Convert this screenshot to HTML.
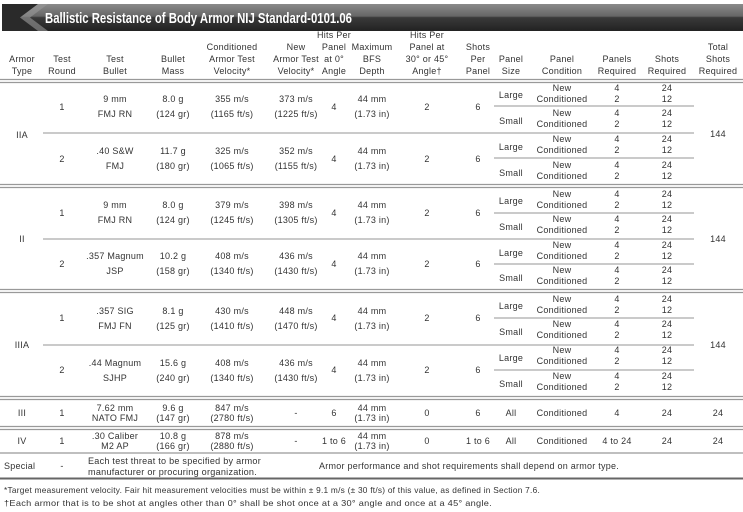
<!DOCTYPE html>
<html><head><meta charset="utf-8"><style>
html,body{margin:0;padding:0;background:#fff;width:743px;height:512px;overflow:hidden}
svg{display:block}
text{font-family:"Liberation Sans",Arial,sans-serif;font-size:9px;fill:#333;letter-spacing:0.25px}
.m{text-anchor:middle}
</style></head><body>
<svg width="743" height="512" viewBox="0 0 743 512" xmlns="http://www.w3.org/2000/svg">
<defs>
<linearGradient id="g" x1="0" y1="0" x2="0" y2="1">
<stop offset="0" stop-color="#8a8a8a"/><stop offset="0.45" stop-color="#666"/><stop offset="0.5" stop-color="#3a3a3a"/><stop offset="1" stop-color="#222"/>
</linearGradient>
</defs>
<rect x="2" y="4" width="741" height="27" fill="url(#g)"/>
<polygon points="2,4 38,4 20,17.5 38,31 2,31" fill="#2a2a2a"/>
<polygon points="38,4 48,4 30,17.5 48,31 38,31 20,17.5" fill="#999" opacity="0.6"/>
<text x="45" y="23" textLength="307" lengthAdjust="spacingAndGlyphs" style="font-size:15px;font-weight:bold;fill:#fff;letter-spacing:0">Ballistic Resistance of Body Armor NIJ Standard-0101.06</text>

<g>
<text class="m" x="22" y="62">Armor</text><text class="m" x="22" y="74">Type</text>
<text class="m" x="62" y="62">Test</text><text class="m" x="62" y="74">Round</text>
<text class="m" x="115" y="62">Test</text><text class="m" x="115" y="74">Bullet</text>
<text class="m" x="173" y="62">Bullet</text><text class="m" x="173" y="74">Mass</text>
<text class="m" x="232" y="50">Conditioned</text><text class="m" x="232" y="62">Armor Test</text><text class="m" x="232" y="74">Velocity*</text>
<text class="m" x="296" y="50">New</text><text class="m" x="296" y="62">Armor Test</text><text class="m" x="296" y="74">Velocity*</text>
<text class="m" x="334" y="38">Hits Per</text><text class="m" x="334" y="50">Panel</text><text class="m" x="334" y="62">at 0°</text><text class="m" x="334" y="74">Angle</text>
<text class="m" x="372" y="50">Maximum</text><text class="m" x="372" y="62">BFS</text><text class="m" x="372" y="74">Depth</text>
<text class="m" x="427" y="38">Hits Per</text><text class="m" x="427" y="50">Panel at</text><text class="m" x="427" y="62">30° or 45°</text><text class="m" x="427" y="74">Angle†</text>
<text class="m" x="478" y="50">Shots</text><text class="m" x="478" y="62">Per</text><text class="m" x="478" y="74">Panel</text>
<text class="m" x="511" y="62">Panel</text><text class="m" x="511" y="74">Size</text>
<text class="m" x="562" y="62">Panel</text><text class="m" x="562" y="74">Condition</text>
<text class="m" x="617" y="62">Panels</text><text class="m" x="617" y="74">Required</text>
<text class="m" x="667" y="62">Shots</text><text class="m" x="667" y="74">Required</text>
<text class="m" x="718" y="50">Total</text><text class="m" x="718" y="62">Shots</text><text class="m" x="718" y="74">Required</text>
</g>

<g stroke="#999" stroke-width="1.3">
<line x1="0" y1="79.5" x2="743" y2="79.5"/><line x1="0" y1="82.5" x2="743" y2="82.5"/>
<line x1="0" y1="184.5" x2="743" y2="184.5"/><line x1="0" y1="187.5" x2="743" y2="187.5"/>
<line x1="0" y1="289.5" x2="743" y2="289.5"/><line x1="0" y1="292.5" x2="743" y2="292.5"/>
<line x1="0" y1="396.5" x2="743" y2="396.5"/><line x1="0" y1="399.5" x2="743" y2="399.5"/>
<line x1="0" y1="426.5" x2="743" y2="426.5"/><line x1="0" y1="429.5" x2="743" y2="429.5"/>
<line x1="0" y1="453" x2="743" y2="453"/>
</g>
<g stroke="#aaa" stroke-width="1.2">
<line x1="43" y1="133" x2="694" y2="133"/><line x1="43" y1="239" x2="694" y2="239"/><line x1="43" y1="345" x2="694" y2="345"/>
<line x1="494" y1="106" x2="694" y2="106"/><line x1="494" y1="158" x2="694" y2="158"/>
<line x1="494" y1="213" x2="694" y2="213"/><line x1="494" y1="264" x2="694" y2="264"/>
<line x1="494" y1="318" x2="694" y2="318"/><line x1="494" y1="370" x2="694" y2="370"/>
</g>
<line x1="0" y1="478.5" x2="743" y2="478.5" stroke="#666" stroke-width="2"/>

<text class="m" x="22" y="138">IIA</text><text class="m" x="718" y="137">144</text>
<text class="m" x="22" y="242">II</text><text class="m" x="718" y="242">144</text>
<text class="m" x="22" y="348">IIIA</text><text class="m" x="718" y="348">144</text>

<text class="m" x="62" y="110">1</text>
<text class="m" x="115" y="102">9 mm</text><text class="m" x="115" y="117">FMJ RN</text>
<text class="m" x="173" y="102">8.0 g</text><text class="m" x="173" y="117">(124 gr)</text>
<text class="m" x="232" y="102">355 m/s</text><text class="m" x="232" y="117">(1165 ft/s)</text>
<text class="m" x="296" y="102">373 m/s</text><text class="m" x="296" y="117">(1225 ft/s)</text>
<text class="m" x="334" y="110">4</text>
<text class="m" x="372" y="102">44 mm</text><text class="m" x="372" y="117">(1.73 in)</text>
<text class="m" x="427" y="110">2</text><text class="m" x="478" y="110">6</text>
<text class="m" x="62" y="162">2</text>
<text class="m" x="115" y="154">.40 S&amp;W</text><text class="m" x="115" y="169">FMJ</text>
<text class="m" x="173" y="154">11.7 g</text><text class="m" x="173" y="169">(180 gr)</text>
<text class="m" x="232" y="154">325 m/s</text><text class="m" x="232" y="169">(1065 ft/s)</text>
<text class="m" x="296" y="154">352 m/s</text><text class="m" x="296" y="169">(1155 ft/s)</text>
<text class="m" x="334" y="162">4</text>
<text class="m" x="372" y="154">44 mm</text><text class="m" x="372" y="169">(1.73 in)</text>
<text class="m" x="427" y="162">2</text><text class="m" x="478" y="162">6</text>

<text class="m" x="62" y="216">1</text>
<text class="m" x="115" y="208">9 mm</text><text class="m" x="115" y="223">FMJ RN</text>
<text class="m" x="173" y="208">8.0 g</text><text class="m" x="173" y="223">(124 gr)</text>
<text class="m" x="232" y="208">379 m/s</text><text class="m" x="232" y="223">(1245 ft/s)</text>
<text class="m" x="296" y="208">398 m/s</text><text class="m" x="296" y="223">(1305 ft/s)</text>
<text class="m" x="334" y="216">4</text>
<text class="m" x="372" y="208">44 mm</text><text class="m" x="372" y="223">(1.73 in)</text>
<text class="m" x="427" y="216">2</text><text class="m" x="478" y="216">6</text>
<text class="m" x="62" y="267">2</text>
<text class="m" x="115" y="259">.357 Magnum</text><text class="m" x="115" y="274">JSP</text>
<text class="m" x="173" y="259">10.2 g</text><text class="m" x="173" y="274">(158 gr)</text>
<text class="m" x="232" y="259">408 m/s</text><text class="m" x="232" y="274">(1340 ft/s)</text>
<text class="m" x="296" y="259">436 m/s</text><text class="m" x="296" y="274">(1430 ft/s)</text>
<text class="m" x="334" y="267">4</text>
<text class="m" x="372" y="259">44 mm</text><text class="m" x="372" y="274">(1.73 in)</text>
<text class="m" x="427" y="267">2</text><text class="m" x="478" y="267">6</text>

<text class="m" x="62" y="321">1</text>
<text class="m" x="115" y="314">.357 SIG</text><text class="m" x="115" y="329">FMJ FN</text>
<text class="m" x="173" y="314">8.1 g</text><text class="m" x="173" y="329">(125 gr)</text>
<text class="m" x="232" y="314">430 m/s</text><text class="m" x="232" y="329">(1410 ft/s)</text>
<text class="m" x="296" y="314">448 m/s</text><text class="m" x="296" y="329">(1470 ft/s)</text>
<text class="m" x="334" y="321">4</text>
<text class="m" x="372" y="314">44 mm</text><text class="m" x="372" y="329">(1.73 in)</text>
<text class="m" x="427" y="321">2</text><text class="m" x="478" y="321">6</text>
<text class="m" x="62" y="373">2</text>
<text class="m" x="115" y="366">.44 Magnum</text><text class="m" x="115" y="381">SJHP</text>
<text class="m" x="173" y="366">15.6 g</text><text class="m" x="173" y="381">(240 gr)</text>
<text class="m" x="232" y="366">408 m/s</text><text class="m" x="232" y="381">(1340 ft/s)</text>
<text class="m" x="296" y="366">436 m/s</text><text class="m" x="296" y="381">(1430 ft/s)</text>
<text class="m" x="334" y="373">4</text>
<text class="m" x="372" y="366">44 mm</text><text class="m" x="372" y="381">(1.73 in)</text>
<text class="m" x="427" y="373">2</text><text class="m" x="478" y="373">6</text>

<g>
<text class="m" x="511" y="98">Large</text><text class="m" x="562" y="91">New</text><text class="m" x="562" y="102">Conditioned</text><text class="m" x="617" y="91">4</text><text class="m" x="617" y="102">2</text><text class="m" x="667" y="91">24</text><text class="m" x="667" y="102">12</text>
<text class="m" x="511" y="124">Small</text><text class="m" x="562" y="116">New</text><text class="m" x="562" y="127">Conditioned</text><text class="m" x="617" y="116">4</text><text class="m" x="617" y="127">2</text><text class="m" x="667" y="116">24</text><text class="m" x="667" y="127">12</text>
<text class="m" x="511" y="150">Large</text><text class="m" x="562" y="142">New</text><text class="m" x="562" y="153">Conditioned</text><text class="m" x="617" y="142">4</text><text class="m" x="617" y="153">2</text><text class="m" x="667" y="142">24</text><text class="m" x="667" y="153">12</text>
<text class="m" x="511" y="176">Small</text><text class="m" x="562" y="168">New</text><text class="m" x="562" y="179">Conditioned</text><text class="m" x="617" y="168">4</text><text class="m" x="617" y="179">2</text><text class="m" x="667" y="168">24</text><text class="m" x="667" y="179">12</text>

<text class="m" x="511" y="204">Large</text><text class="m" x="562" y="197">New</text><text class="m" x="562" y="208">Conditioned</text><text class="m" x="617" y="197">4</text><text class="m" x="617" y="208">2</text><text class="m" x="667" y="197">24</text><text class="m" x="667" y="208">12</text>
<text class="m" x="511" y="230">Small</text><text class="m" x="562" y="222">New</text><text class="m" x="562" y="233">Conditioned</text><text class="m" x="617" y="222">4</text><text class="m" x="617" y="233">2</text><text class="m" x="667" y="222">24</text><text class="m" x="667" y="233">12</text>
<text class="m" x="511" y="256">Large</text><text class="m" x="562" y="248">New</text><text class="m" x="562" y="259">Conditioned</text><text class="m" x="617" y="248">4</text><text class="m" x="617" y="259">2</text><text class="m" x="667" y="248">24</text><text class="m" x="667" y="259">12</text>
<text class="m" x="511" y="281">Small</text><text class="m" x="562" y="273">New</text><text class="m" x="562" y="284">Conditioned</text><text class="m" x="617" y="273">4</text><text class="m" x="617" y="284">2</text><text class="m" x="667" y="273">24</text><text class="m" x="667" y="284">12</text>

<text class="m" x="511" y="309">Large</text><text class="m" x="562" y="302">New</text><text class="m" x="562" y="313">Conditioned</text><text class="m" x="617" y="302">4</text><text class="m" x="617" y="313">2</text><text class="m" x="667" y="302">24</text><text class="m" x="667" y="313">12</text>
<text class="m" x="511" y="335">Small</text><text class="m" x="562" y="327">New</text><text class="m" x="562" y="338">Conditioned</text><text class="m" x="617" y="327">4</text><text class="m" x="617" y="338">2</text><text class="m" x="667" y="327">24</text><text class="m" x="667" y="338">12</text>
<text class="m" x="511" y="361">Large</text><text class="m" x="562" y="353">New</text><text class="m" x="562" y="364">Conditioned</text><text class="m" x="617" y="353">4</text><text class="m" x="617" y="364">2</text><text class="m" x="667" y="353">24</text><text class="m" x="667" y="364">12</text>
<text class="m" x="511" y="387">Small</text><text class="m" x="562" y="379">New</text><text class="m" x="562" y="390">Conditioned</text><text class="m" x="617" y="379">4</text><text class="m" x="617" y="390">2</text><text class="m" x="667" y="379">24</text><text class="m" x="667" y="390">12</text>
</g>

<text class="m" x="22" y="416">III</text><text class="m" x="62" y="416">1</text>
<text class="m" x="115" y="411">7.62 mm</text><text class="m" x="115" y="421">NATO FMJ</text>
<text class="m" x="173" y="411">9.6 g</text><text class="m" x="173" y="421">(147 gr)</text>
<text class="m" x="232" y="411">847 m/s</text><text class="m" x="232" y="421">(2780 ft/s)</text>
<text class="m" x="296" y="416">-</text><text class="m" x="334" y="416">6</text>
<text class="m" x="372" y="411">44 mm</text><text class="m" x="372" y="421">(1.73 in)</text>
<text class="m" x="427" y="416">0</text><text class="m" x="478" y="416">6</text><text class="m" x="511" y="416">All</text>
<text class="m" x="562" y="416">Conditioned</text><text class="m" x="617" y="416">4</text><text class="m" x="667" y="416">24</text><text class="m" x="718" y="416">24</text>

<text class="m" x="22" y="444">IV</text><text class="m" x="62" y="444">1</text>
<text class="m" x="115" y="439">.30 Caliber</text><text class="m" x="115" y="449">M2 AP</text>
<text class="m" x="173" y="439">10.8 g</text><text class="m" x="173" y="449">(166 gr)</text>
<text class="m" x="232" y="439">878 m/s</text><text class="m" x="232" y="449">(2880 ft/s)</text>
<text class="m" x="296" y="444">-</text><text class="m" x="334" y="444">1 to 6</text>
<text class="m" x="372" y="439">44 mm</text><text class="m" x="372" y="449">(1.73 in)</text>
<text class="m" x="427" y="444">0</text><text class="m" x="478" y="444">1 to 6</text><text class="m" x="511" y="444">All</text>
<text class="m" x="562" y="444">Conditioned</text><text class="m" x="617" y="444">4 to 24</text><text class="m" x="667" y="444">24</text><text class="m" x="718" y="444">24</text>

<text x="4" y="469">Special</text><text class="m" x="62" y="469">-</text>
<text x="88" y="464" textLength="173" lengthAdjust="spacingAndGlyphs">Each test threat to be specified by armor</text>
<text x="88" y="475" textLength="169" lengthAdjust="spacingAndGlyphs">manufacturer or procuring organization.</text>
<text x="319" y="469" textLength="300" lengthAdjust="spacingAndGlyphs">Armor performance and shot requirements shall depend on armor type.</text>

<text x="4" y="493" textLength="536" lengthAdjust="spacingAndGlyphs" style="font-size:8.5px">*Target measurement velocity. Fair hit measurement velocities must be within ± 9.1 m/s (± 30 ft/s) of this value, as defined in Section 7.6.</text>
<text x="4" y="506" textLength="488" lengthAdjust="spacingAndGlyphs" style="font-size:8.5px">†Each armor that is to be shot at angles other than 0° shall be shot once at a 30° angle and once at a 45° angle.</text>
</svg>
</body></html>
